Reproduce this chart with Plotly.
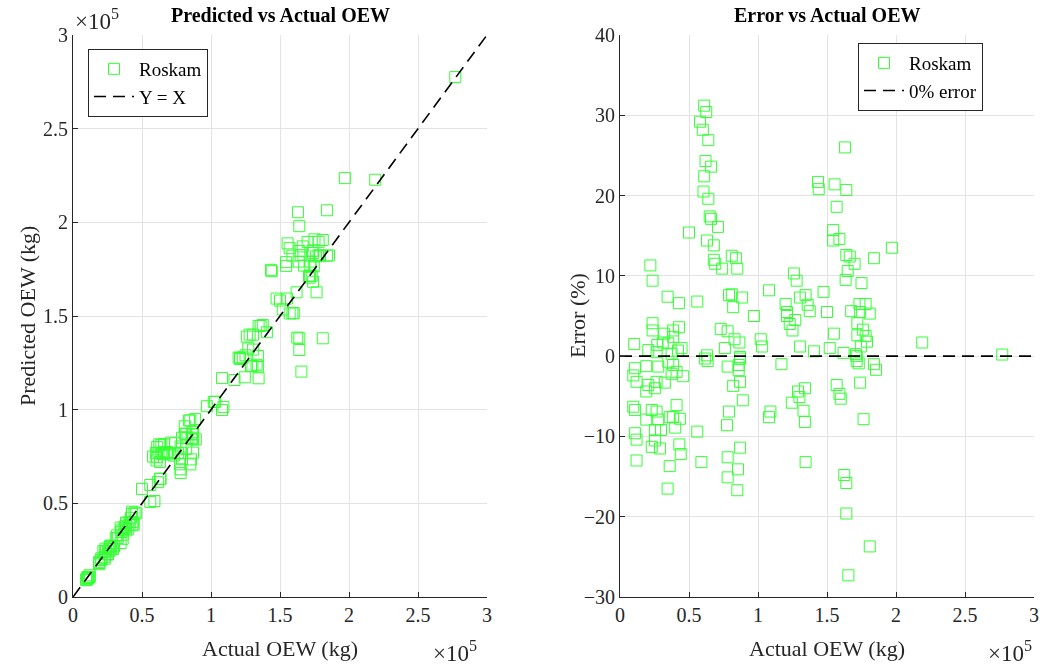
import plotly.graph_objects as go

# Actual OEW (kg) and error (%) for each aircraft
actual_oew_kg = [
    50000, 22000, 23600, 34500, 42700, 56000, 23600, 23600, 32000, 38500, 42700, 38500, 10300, 27000, 20500,
    35000, 44600, 37400, 26500, 31000, 42000, 35000, 37400,
    61500, 10800, 19000, 27700, 38500, 41000, 45800, 9600, 12000, 20500, 26500, 32500, 19000, 25300, 9600,
    10800, 23000, 26500, 41000, 38500, 43400, 19000, 27700, 36000, 10800, 25300, 29700, 40000, 56000, 12000,
    25300, 23000, 29000, 43000, 44000, 12000, 36000, 59000, 34500,
    61000, 62500, 58000, 60000, 64000, 62000, 66000, 61000, 60500, 64000, 65000, 66000, 71000, 63000, 68000,
    68000, 69000, 74000, 81000, 84000, 85000, 108000, 79000, 81000, 88500, 82000, 97000, 73000, 78000, 83000,
    86500, 102000, 103000, 76000, 63000, 87000,
    63500, 87000, 78000, 86000, 86000, 82000, 87000, 89000, 79000, 77500, 109000, 108000, 87000, 78000, 85500,
    78000, 85000,
    143500, 144000, 155500, 164000, 157000, 154500, 154500, 159000, 197000, 164000, 166500, 170000, 184000,
    165000, 126000, 128000, 163500, 175000, 147500, 130500, 134500, 136000, 120000, 121000, 121000, 127000,
    123000, 125000, 137500, 150000, 167500, 173500, 178000, 174000, 181000, 172000, 176000, 172000, 178000,
    179000, 174500, 155000, 130500, 152000, 140500, 162000, 171000, 163000,
    171500, 171500, 173000, 184000, 185500, 117000, 134000, 129000, 130000, 124500, 157000, 159000, 160000,
    174000, 133000, 134000, 176500, 134500, 162500, 164000, 164000, 181000, 165500, 219000, 277000,
]
error_pct = [
    15.4, 11.3, 9.4, 7.4, 6.6, 6.8, 4.1, 3.2, 2.8, 3.2, 3.6, 2.4, 1.5, 1.4, 0.75,
    1.6, 1.0, 0.3, 0.5, 1.7, 0.7, -0.7, -2.2,
    -0.3, -1.5, -1.25, -1.3, -1.1, -1.95, -2.5, -2.4, -3.2, -3.6, -3.2, -3.3, -4.4, -4.0, -6.3,
    -6.7, -6.7, -6.9, -6.1, -7.6, -7.8, -7.9, -7.9, -7.6, -9.6, -9.2, -9.2, -8.9, -9.4, -10.4,
    -10.5, -11.3, -11.5, -11.0, -12.2, -13.0, -13.7, -13.2, -16.5,
    31.2, 30.4, 29.2, 28.2, 26.9, 24.3, 23.6, 22.4, 20.5, 19.6, 17.4, 17.1, 16.1, 14.4, 13.8,
    12.0, 11.5, 10.9, 12.5, 12.2, 10.9, 8.2, 7.6, 7.7, 7.3, 6.1, 5.0, 3.4, 3.1, 2.1,
    1.7, 2.1, 1.2, 1.0, 0.1, -0.1,
    -0.6, -0.3, -1.3, -1.1, -1.75, -3.7, -3.2, -5.5, -6.9, -8.6, -6.9, -7.6, -11.4, -12.6, -14.1,
    -15.1, -16.7,
    21.7, 20.8, 21.4, 20.7, 18.6, 15.7, 14.4, 14.6, 13.5, 12.6, 12.4, 11.5, 12.2,
    10.6, 10.3, 9.4, 9.5, 9.1, 8.0, 7.3, 7.6, 6.4, 6.5, 5.5, 5.0, 4.5,
    4.0, 3.2, 5.6, 5.5, 5.6, 6.5, 6.5, 5.5, 5.3, 4.1, 3.3, 2.6, 2.5,
    1.8, 1.2, 2.8, 1.2, 1.0, 0.6, 0.4, 0.25, 26.0,
    0.0, -0.6, -0.9, -1.0, -1.7, -1.0, -4.0, -4.4, -5.1, -5.8, -3.6, -4.7, -5.3,
    -3.3, -6.8, -8.2, -7.85, -13.2, -14.8, -15.8, -19.6, -23.7, -27.3, 1.7, 0.2,
]
# Predicted OEW follows from the definition of the error
predicted_oew_kg = [a * (1 + e / 100.0) for a, e in zip(actual_oew_kg, error_pct)]

axis_ticks = [0, 50000, 100000, 150000, 200000, 250000, 300000]
axis_tick_labels = ["0", "0.5", "1", "1.5", "2", "2.5", "3"]
line_ref = [0, 300000]
err_ticks = [-30, -20, -10, 0, 10, 20, 30, 40]

FONT = "Liberation Serif, Times New Roman, serif"
GREEN = "#00ff00"
AX = "#262626"
GRID = "#e3e3e3"
DASH = "12px,7px"

fig = go.Figure()
marker = dict(symbol="square-open", size=11, color=GREEN, line=dict(width=1, color=GREEN))

fig.add_trace(go.Scatter(x=actual_oew_kg, y=predicted_oew_kg, mode="markers", marker=marker,
                         opacity=0.8, name="Roskam", xaxis="x", yaxis="y", legend="legend"))
fig.add_trace(go.Scatter(x=line_ref, y=line_ref, mode="lines", line=dict(color="black", dash=DASH, width=1.6),
                         name="Y = X", xaxis="x", yaxis="y", legend="legend"))
fig.add_trace(go.Scatter(x=actual_oew_kg, y=error_pct, mode="markers", marker=marker,
                         opacity=0.8, name="Roskam", xaxis="x2", yaxis="y2", legend="legend2"))
fig.add_trace(go.Scatter(x=line_ref, y=[0, 0], mode="lines", line=dict(color="black", dash=DASH, width=1.6),
                         name="0% error", xaxis="x2", yaxis="y2", legend="legend2"))

W, H = 1040, 667
ydom = [70 / H, 632 / H]
common = dict(showline=True, linecolor=AX, linewidth=1, ticks="inside", ticklen=5, tickcolor=AX,
              showgrid=True, gridcolor=GRID, gridwidth=1, zeroline=False, mirror=False,
              tickfont=dict(family=FONT, size=20, color=AX))

fig.update_layout(
    width=W, height=H, template="none", paper_bgcolor="white", plot_bgcolor="white",
    margin=dict(l=0, r=0, t=0, b=0), font=dict(family=FONT, color=AX),
    xaxis=dict(domain=[73 / W, 487 / W], range=[0, 300000], tickvals=axis_ticks, ticktext=axis_tick_labels,
               anchor="y", **common),
    yaxis=dict(domain=ydom, range=[0, 300000], tickvals=axis_ticks, ticktext=axis_tick_labels,
               anchor="x", **common),
    xaxis2=dict(domain=[620 / W, 1034 / W], range=[0, 300000], tickvals=axis_ticks, ticktext=axis_tick_labels,
                anchor="y2", **common),
    yaxis2=dict(domain=ydom, range=[-30, 40], tickvals=err_ticks, anchor="x2", **common),
    legend=dict(x=88 / W, y=1 - 49 / H, xanchor="left", yanchor="top", bgcolor="white",
                bordercolor=AX, borderwidth=1, font=dict(family=FONT, size=19, color="black"),
                tracegroupgap=0, itemwidth=40),
    legend2=dict(x=858 / W, y=1 - 43 / H, xanchor="left", yanchor="top", bgcolor="white",
                 bordercolor=AX, borderwidth=1, font=dict(family=FONT, size=19, color="black"),
                 tracegroupgap=0, itemwidth=40),
)

ann = []
def add_text(text, x, y, size, xanchor="center", yanchor="middle", angle=0, color="black"):
    ann.append(dict(text=text, x=x / W, y=1 - y / H, xref="paper", yref="paper", showarrow=False,
                    xanchor=xanchor, yanchor=yanchor, textangle=angle,
                    font=dict(family=FONT, size=size, color=color)))

add_text("<b>Predicted vs Actual OEW</b>", 280, 15, 20)
add_text("<b>Error vs Actual OEW</b>", 827, 15, 20)
add_text("Actual OEW (kg)", 280, 648, 22, color=AX)
add_text("Actual OEW (kg)", 827, 648, 22, color=AX)
add_text("Predicted OEW (kg)", 28, 316, 22, angle=-90, color=AX)
add_text("Error (%)", 578, 316, 22, angle=-90, color=AX)
add_text("×10<sup>5</sup>", 73, 19, 23, xanchor="left", color=AX)
add_text("×10<sup>5</sup>", 479, 651, 23, xanchor="right", color=AX)
add_text("×10<sup>5</sup>", 1034, 651, 23, xanchor="right", color=AX)
fig.update_layout(annotations=ann)

fig.write_html("out.html", config={"displayModeBar": False},
               post_script="document.body.style.margin='0px';document.body.style.overflow='hidden';")
